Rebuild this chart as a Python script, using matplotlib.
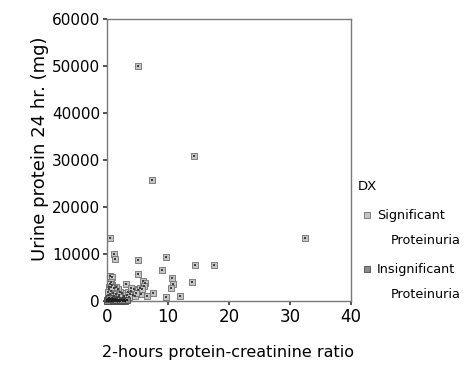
import matplotlib
matplotlib.use("Agg")
import matplotlib.pyplot as plt
from matplotlib.lines import Line2D

# Significant proteinuria points
sig_x = [5.1, 14.3, 7.4, 32.4, 0.55, 1.2, 1.36, 5.0, 9.6, 14.5, 17.6, 5.0, 9.0, 0.55, 0.8,
         10.7, 10.8, 10.5, 13.9, 5.95, 6.3, 6.1, 3.1, 7.6, 6.6, 9.7, 11.9, 5.5,
         3.5, 4.0, 4.5, 5.0, 5.4, 3.8, 4.2, 2.8, 3.3, 2.5, 2.2, 1.8, 1.5, 1.2, 0.9, 0.6,
         0.4, 0.3, 0.7, 1.0, 1.4, 2.0, 2.6, 3.0, 3.6, 4.6, 1.1, 0.5, 0.2, 0.8, 1.6, 2.3,
         0.3, 0.1, 1.9, 4.8, 5.8, 3.9, 0.45, 0.6]
sig_y = [50000, 30900, 25700, 13300, 13500, 10000, 9000, 8650, 9300, 7600, 7700, 5700, 6500, 5300, 5100,
         4800, 3700, 2750, 4000, 4200, 3900, 3200, 3600, 1800, 1100, 900, 1100, 1500,
         2000, 2200, 2500, 2300, 2800, 1500, 1200, 1000, 1300, 1600, 2000, 2500, 3000, 2800, 3500, 4000,
         3000, 2500, 2200, 1800, 1500, 1200, 700, 600, 800, 1000, 1000, 1500, 1200, 600, 600, 400,
         700, 2000, 900, 1700, 2600, 2700, 3600, 2900]

# Insignificant proteinuria points
ins_x = [0.1, 0.2, 0.3, 0.4, 0.5, 0.6, 0.7, 0.8, 0.9, 1.0, 1.1, 1.2, 1.3, 1.4, 1.5, 1.6, 1.7,
         1.8, 1.9, 2.0, 2.2, 2.4, 2.6, 2.8, 3.0, 3.3, 0.15, 0.35, 0.55, 0.75, 0.95, 1.15, 0.25,
         0.05, 0.45, 0.65, 0.85, 1.05, 1.25, 1.45, 2.1, 2.5, 0.0, 0.12, 0.3]
ins_y = [100, 50, 150, 80, 200, 120, 60, 180, 90, 140, 40, 220, 100, 60, 170, 110, 30,
         200, 80, 150, 60, 120, 90, 160, 70, 110, 300, 250, 350, 280, 320, 400, 450,
         200, 20, 380, 30, 260, 330, 300, 250, 300, 50, 500, 600]

x_ticks = [0, 10, 20, 30, 40]
y_ticks = [0, 10000, 20000, 30000, 40000, 50000, 60000]

fig = plt.figure(figsize=(4.74, 3.74), dpi=100)
ax = fig.add_axes([107/474, 1-301/374, (351-107)/474, (301-19)/374])

sig_face, sig_edge = '#c4c4c4', '#707070'
ins_face, ins_edge = '#8a8a8a', '#4a4a4a'

ax.scatter(sig_x, sig_y, marker='s', s=18, facecolor=sig_face, edgecolor=sig_edge, linewidths=0.6, clip_on=False, zorder=3)
ax.scatter(sig_x, sig_y, marker='s', s=1.2, color='#404040', linewidths=0, clip_on=False, zorder=4)
ax.scatter(ins_x, ins_y, marker='s', s=18, facecolor=ins_face, edgecolor=ins_edge, linewidths=0.6, clip_on=False, zorder=3)
ax.scatter(ins_x, ins_y, marker='s', s=1.2, color='#202020', linewidths=0, clip_on=False, zorder=4)

ax.set_xlim(0, 40)
ax.set_ylim(0, 60000)
ax.set_xticks(x_ticks)
ax.set_yticks(y_ticks)
ax.set_xticklabels([str(v) for v in x_ticks], fontsize=12)
ax.set_yticklabels([str(v) for v in y_ticks], fontsize=11)
for s in ax.spines.values():
    s.set_color('#7a7a7a')
    s.set_linewidth(1.0)
ax.tick_params(axis='both', length=3, width=1.2, color='#333333', pad=2)

fig.text(228/474, 1-352/374, '2-hours protein-creatinine ratio', ha='center', va='center', fontsize=11.5)
fig.text(40/474, 1-149/374, 'Urine protein 24 hr. (mg)', ha='center', va='center', rotation=90, fontsize=13)

# legend
fig.text(358/474, 1-186/374, 'DX', ha='left', va='center', fontsize=9.5)
fig.add_artist(Line2D([367/474], [1-215/374], transform=fig.transFigure, marker='s', markersize=4,
                      markerfacecolor=sig_face, markeredgecolor=sig_edge, markeredgewidth=0.6, linestyle='none'))
fig.add_artist(Line2D([367/474], [1-269/374], transform=fig.transFigure, marker='s', markersize=4,
                      markerfacecolor=ins_face, markeredgecolor=ins_edge, markeredgewidth=0.6, linestyle='none'))
fig.text(377/474, 1-216/374, 'Significant', ha='left', va='center', fontsize=9.2)
fig.text(391/474, 1-241/374, 'Proteinuria', ha='left', va='center', fontsize=9.2)
fig.text(377/474, 1-270/374, 'Insignificant', ha='left', va='center', fontsize=9.2)
fig.text(391/474, 1-295/374, 'Proteinuria', ha='left', va='center', fontsize=9.2)

fig.savefig('out.png', dpi=100)
